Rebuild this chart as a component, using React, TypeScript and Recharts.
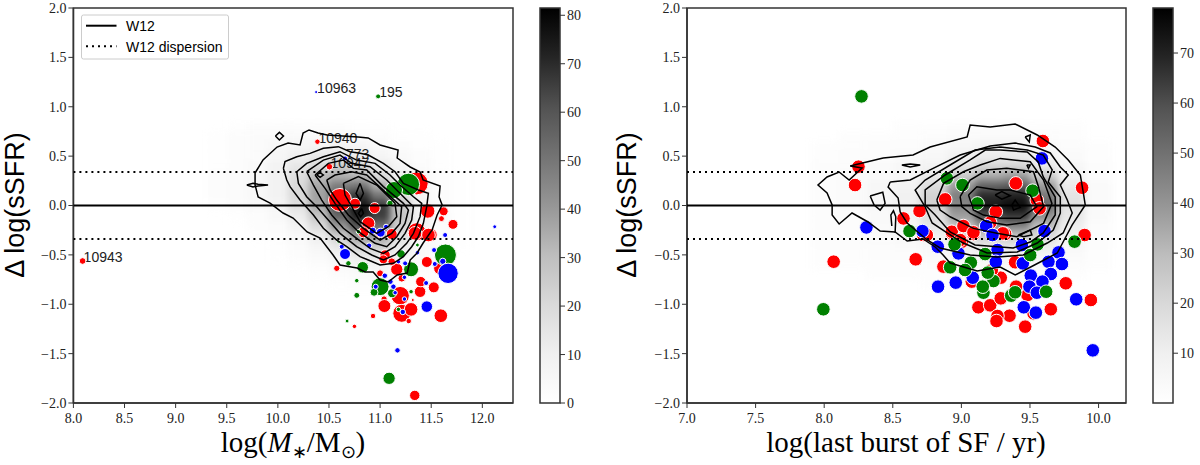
import React from 'react';
import { ScatterChart, Scatter, XAxis, YAxis, ZAxis, ReferenceArea } from 'recharts';

type Row = number[];

// ---------- axis ticks ----------
const ySsfrTicks = [-2, -1.5, -1, -0.5, 0, 0.5, 1, 1.5, 2];
const massTicks = [8, 8.5, 9, 9.5, 10, 10.5, 11, 11.5, 12];
const burstTicks = [7, 7.5, 8, 8.5, 9, 9.5, 10];
const massBarTicks = [0, 10, 20, 30, 40, 50, 60, 70, 80];
const burstBarTicks = [10, 20, 30, 40, 50, 60, 70];
const w12Mean = 0;
const w12Scatter = 0.34;

// ---------- density maps ----------
const densityY = [0.8, 0.7, 0.6, 0.5, 0.4, 0.3, 0.2, 0.1, 0, -0.1, -0.2, -0.3, -0.4, -0.5, -0.6, -0.7, -0.8];
const massDensityX = [9.4, 9.6, 9.8, 10, 10.2, 10.4, 10.6, 10.8, 11, 11.2, 11.4, 11.6, 11.8];
const massDensity: Row[] = [
  [0, 1, 2, 2, 2, 2, 2, 1, 1, 0, 0, 0, 0],
  [1, 2, 3, 3, 4, 4, 4, 3, 2, 1, 1, 0, 0],
  [1, 2, 3, 5, 6, 7, 8, 6, 4, 2, 1, 1, 0],
  [1, 2, 3, 6, 10, 13, 14, 12, 7, 4, 2, 1, 0],
  [1, 2, 4, 8, 14, 20, 24, 20, 13, 7, 3, 1, 0],
  [2, 3, 5, 9, 18, 30, 34, 32, 20, 10, 5, 2, 1],
  [2, 3, 5, 9, 20, 36, 48, 50, 34, 14, 6, 2, 1],
  [2, 3, 5, 9, 20, 38, 58, 68, 50, 20, 7, 2, 1],
  [1, 2, 4, 7, 17, 36, 62, 76, 66, 26, 8, 3, 1],
  [0, 1, 2, 5, 12, 28, 56, 74, 66, 28, 8, 3, 1],
  [0, 0, 2, 3, 8, 20, 42, 62, 54, 24, 8, 2, 1],
  [0, 0, 1, 2, 5, 12, 26, 42, 40, 18, 6, 2, 1],
  [0, 0, 0, 1, 3, 7, 15, 26, 26, 13, 5, 2, 1],
  [0, 0, 0, 1, 2, 4, 8, 14, 15, 9, 4, 1, 0],
  [0, 0, 0, 0, 1, 2, 4, 7, 8, 5, 2, 1, 0],
  [0, 0, 0, 0, 0, 1, 2, 3, 4, 3, 1, 1, 0],
  [0, 0, 0, 0, 0, 0, 1, 2, 2, 1, 1, 0, 0],
];
const burstDensityX = [8.0, 8.2, 8.4, 8.6, 8.8, 9.0, 9.2, 9.4, 9.6, 9.8, 10.0];
const burstDensity: Row[] = [
  [0, 0, 0, 1, 1, 2, 2, 2, 1, 1, 0],
  [0, 1, 1, 1, 2, 3, 3, 3, 2, 1, 0],
  [1, 1, 2, 2, 3, 5, 7, 7, 4, 2, 1],
  [1, 2, 2, 3, 5, 9, 12, 12, 7, 3, 1],
  [2, 2, 3, 5, 8, 14, 20, 20, 13, 5, 2],
  [2, 3, 4, 6, 12, 24, 34, 38, 24, 8, 2],
  [2, 3, 5, 8, 18, 38, 54, 56, 38, 12, 3],
  [2, 3, 5, 9, 22, 46, 68, 70, 48, 15, 3],
  [2, 3, 5, 9, 22, 44, 72, 76, 52, 16, 3],
  [2, 2, 4, 8, 18, 38, 60, 66, 42, 14, 3],
  [2, 2, 3, 6, 14, 28, 42, 46, 30, 11, 2],
  [2, 2, 3, 5, 10, 18, 26, 28, 20, 8, 2],
  [2, 2, 2, 3, 6, 11, 14, 15, 12, 5, 2],
  [1, 1, 2, 2, 4, 6, 8, 9, 6, 3, 1],
  [1, 1, 1, 1, 2, 3, 4, 4, 3, 2, 1],
  [0, 0, 1, 1, 1, 2, 2, 2, 2, 1, 0],
  [0, 0, 0, 0, 1, 1, 1, 1, 0, 0, 0],
];

// ---------- left panel galaxies: [log mass, delta sSFR, weight] ----------
const massRed: Row[] = [
  [8.09, -0.562, 8], [10.576, -0.636, 7], [10.749, -1.224, 3], [10.931, -1.119, 5], [11.039, -0.947, 7],
  [11.042, -1.018, 36], [11.196, -0.913, 76], [11.391, -0.873, 28], [11.398, -0.771, 22], [11.525, -0.829, 25],
  [11.457, -0.572, 25], [11.587, -0.636, 36], [11.163, -0.646, 32], [11.114, -0.569, 11], [11.212, -0.737, 11],
  [11.212, -1.092, 72], [11.303, -1.052, 40], [11.28, -1.17, 5], [11.594, -1.116, 40], [11.339, -1.923, 22],
  [11.0, -0.687, 9], [11.32, -0.957, 1], [11.049, -0.501, 22], [10.608, 0.056, 121], [10.755, 0.018, 25],
  [10.947, -0.026, 25], [10.885, -0.181, 36], [10.837, -0.272, 25], [11.114, -0.289, 25], [11.0, -0.282, 16],
  [11.358, -0.265, 72], [11.495, -0.299, 36], [11.466, -0.056, 45], [11.622, -0.059, 16], [11.6, -0.133, 6],
  [11.713, -0.191, 20], [10.504, 0.393, 8], [10.387, 0.646, 5], [11.358, 0.224, 121], [11.032, -0.545, 16],
  [11.342, -0.282, 40], [11.473, -0.299, 40],
];
const massGreen: Row[] = [
  [10.69, -0.586, 5], [10.83, -0.626, 28], [10.772, -0.761, 3], [10.772, -0.91, 6], [10.677, -1.17, 2],
  [11.0, -0.822, 72], [10.941, -0.879, 12], [11.117, -0.889, 16], [11.303, -0.873, 3], [11.179, -1.052, 3],
  [11.088, -1.75, 32], [11.205, -0.491, 14], [11.303, -0.646, 49], [11.639, -0.501, 110], [11.365, -0.4, 2],
  [10.592, -0.366, 1], [11.277, 0.214, 114], [11.136, 0.157, 64], [11.097, 0.022, 7], [10.788, -0.265, 3],
  [10.981, 1.105, 4],
];
const massBlue: Row[] = [
  [10.657, -0.491, 25], [10.625, -0.417, 4], [10.892, -0.407, 5], [11.365, -0.478, 3], [11.528, -0.451, 4],
  [11.636, -0.299, 4], [11.535, -0.592, 4], [11.613, -0.565, 7], [11.665, -0.687, 94], [11.245, -0.586, 4],
  [11.179, -0.569, 3], [11.046, -0.711, 5], [11.238, -0.727, 3], [11.101, -0.771, 5], [10.957, -0.822, 4],
  [11.13, -0.822, 5], [11.147, -0.883, 3], [11.45, -0.785, 4], [11.238, -0.947, 3], [11.222, -1.078, 5],
  [11.457, -1.024, 28], [11.17, -1.467, 5], [10.657, 0.477, 4], [10.928, -0.255, 9], [11.006, -0.275, 16],
  [11.058, -0.215, 4], [12.121, -0.215, 2], [10.374, 1.149, 1],
];
const labelledX = [10.374, 10.981, 10.387, 10.504, 10.657, 8.09];
const labelledY = [1.149, 1.105, 0.646, 0.393, 0.477, -0.562];
const labelledIds = ['10963', '195', '10940', '10947', '773', '10943'];

// ---------- left panel contours ----------
const massContours: [number, number][][] = [
  [[9.777,.329],[9.855,.461],[9.992,.592],[10.1,.633],[10.217,.613],[10.247,.734],[10.305,.765],[10.393,.734],[10.481,.714],[10.785,.694],[10.883,.684],[11,.613],[11.176,.562],[11.167,.481],[11.294,.39],[11.392,.339],[11.421,.258],[11.587,.197],[11.577,.086],[11.607,.005],[11.558,-.096],[11.509,-.248],[11.421,-.38],[11.362,-.481],[11.294,-.552],[11.265,-.684],[11.167,-.704],[11.079,-.775],[11,-.754],[10.932,-.673],[10.853,-.673],[10.775,-.633],[10.608,-.603],[10.54,-.501],[10.413,-.329],[10.286,-.268],[10.149,-.127],[10.051,-.076],[9.924,.025],[9.807,.086],[9.777,.208]],
  [[10.054,.376],[10.07,.444],[10.185,.494],[10.315,.528],[10.445,.579],[10.592,.596],[10.706,.545],[10.804,.528],[10.885,.511],[11.032,.427],[11.146,.342],[11.228,.224],[11.374,.157],[11.472,.123],[11.456,-.012],[11.423,-.181],[11.374,-.316],[11.309,-.417],[11.228,-.518],[11.13,-.586],[11,-.603],[10.885,-.552],[10.804,-.518],[10.674,-.417],[10.576,-.35],[10.445,-.231],[10.348,-.096],[10.217,.056],[10.119,.191],[10.087,.258]],
  [[10.185,.342],[10.282,.427],[10.445,.494],[10.608,.545],[10.771,.46],[10.951,.427],[11.097,.309],[11.195,.207],[11.326,.089],[11.407,.022],[11.391,-.113],[11.326,-.282],[11.26,-.383],[11.146,-.501],[11.032,-.552],[10.918,-.501],[10.771,-.417],[10.608,-.282],[10.478,-.13],[10.38,-.012],[10.282,.089],[10.201,.224]],
  [[10.282,.342],[10.445,.46],[10.608,.511],[10.722,.427],[10.902,.393],[11.065,.258],[11.26,.055],[11.326,-.012],[11.309,-.147],[11.244,-.282],[11.146,-.417],[11.032,-.485],[10.902,-.434],[10.771,-.333],[10.641,-.231],[10.527,-.096],[10.429,.055],[10.348,.207]],
  [[10.364,.309],[10.494,.427],[10.641,.46],[10.739,.376],[10.869,.359],[11.032,.191],[11.228,.022],[11.277,-.046],[11.244,-.181],[11.163,-.316],[11.065,-.417],[10.951,-.383],[10.788,-.265],[10.674,-.147],[10.559,.022],[10.462,.174]],
  [[10.478,.258],[10.559,.309],[10.722,.342],[10.869,.309],[11.065,.123],[11.211,-.012],[11.195,-.181],[11.114,-.282],[11,-.35],[10.837,-.231],[10.69,-.096],[10.576,.055],[10.511,.157]],
  [[10.641,.224],[10.788,.292],[10.967,.207],[11.146,.022],[11.163,-.113],[11.081,-.215],[10.967,-.282],[10.804,-.164],[10.722,-.012],[10.657,.106]],
  [[10.804,.224],[10.837,.123],[10.804,.055],[10.765,.123]],
  [[10.82,-.03],[10.837,-.08],[10.81,-.113],[10.788,-.08]],
  [[10.38,.309],[10.413,.332],[10.445,.309],[10.413,.285]],
  [[9.976,.704],[10.015,.741],[10.055,.704],[10.015,.663]],
  [[9.696,.208],[9.757,.225],[9.806,.215],[9.904,.208],[9.806,.198],[9.757,.188]],
];

// ---------- right panel galaxies: [log age of last burst, delta sSFR] ----------
const burstRed: Row[] = [
  [8.069,-.569],[8.667,-.545],[8.869,-.619],[9.076,-.771],[9.124,-1.031],[9.21,-1.011],[9.287,-.94],[9.351,-1.116],
  [9.263,-1.119],[9.256,-1.17],[9.465,-1.227],[9.652,-1.051],[9.526,-1.092],[9.761,-.788],[9.944,-.957],[9.392,-.575],
  [9.287,-.731],[9.399,-.822],[9.482,-.906],[9.222,-.653],[9.898,-.299],[8.93,-.282],[9.088,-.289],[9.319,-.288],
  [8.723,-.299],[9.003,-.366],[9.368,-.906],[8.25,.393],[8.225,.207],[9.594,.653],[9.397,.224],[8.882,.062],
  [8.695,-.056],[8.578,-.131],[9.251,-.063],[9.55,.055],[9.57,-.029],[8.93,-.266],[9.015,-.208],[9.088,-.272],
  [9.302,-.282],[9.21,-.174],[8.748,-.299],[8.991,-.35],[9.88,.18],
];
const burstBlue: Row[] = [
  [9.587,.477],[8.308,-.222],[8.716,-.259],[9.181,-.208],[9.227,-.299],[9.606,-.259],[8.828,-.417],[8.979,-.485],
  [9.441,-.401],[9.263,-.451],[9.251,-.57],[9.635,-.57],[9.708,-.475],[9.733,-.593],[9.448,-.586],[9.652,-.694],
  [9.506,-.71],[9.591,-.771],[9.496,-.822],[9.55,-.883],[9.083,-.731],[8.959,-.781],[8.83,-.822],[9.837,-.95],
  [9.455,-1.031],[9.543,-1.085],[9.958,-1.467],
];
const burstGreen: Row[] = [
  [8.894,.275],[9.008,.207],[9.117,.021],[9.519,.15],[8.622,-.259],[9.173,-.492],[9.502,-.502],[9.555,-.394],
  [8.95,-.394],[8.272,1.105],[7.994,-1.051],[9.825,-.366],[9.069,-.579],[8.918,-.626],[9.027,-.653],[9.234,-.765],
  [9.192,-.68],[9.161,-.883],[9.156,-.822],[9.363,-.913],[9.392,-.879],[9.618,-.873],
];

// ---------- right panel contours ----------
const burstContours: [number, number][][] = [
  [[8.189,.4],[8.43,.481],[8.648,.511],[8.772,.592],[9.042,.694],[9.064,.815],[9.21,.795],[9.392,.825],[9.553,.714],[9.684,.592],[9.779,.461],[9.867,.309],[9.889,.127],[9.903,.005],[9.808,-.197],[9.757,-.329],[9.699,-.481],[9.575,-.572],[9.392,-.704],[9.283,-.623],[9.115,-.663],[8.918,-.582],[8.867,-.501],[8.809,-.42],[8.721,-.339],[8.605,-.36],[8.517,-.268],[8.408,-.258],[8.32,-.167],[8.203,-.076],[8.109,-.187],[8.058,-.096],[8.058,.005],[8.021,.127],[7.955,.208],[8.021,.289],[8.109,.339],[8.182,.258],[8.276,.38]],
  [[8.481,.238],[8.627,.258],[8.772,.36],[8.991,.511],[9.21,.603],[9.392,.633],[9.538,.592],[9.648,.532],[9.721,.39],[9.779,.309],[9.721,.208],[9.772,.056],[9.808,-.076],[9.742,-.278],[9.626,-.38],[9.451,-.501],[9.261,-.522],[9.064,-.501],[8.845,-.43],[8.751,-.349],[8.605,-.177],[8.554,-.066],[8.539,.076],[8.466,.187]],
  [[9.283,.592],[9.48,.562],[9.597,.511],[9.662,.36],[9.633,.238],[9.721,.086],[9.721,-.076],[9.67,-.248],[9.553,-.38],[9.407,-.471],[9.188,-.481],[9.013,-.38],[8.896,-.278],[8.787,-.177],[8.736,-.015],[8.663,.157],[8.736,.258],[8.918,.41],[9.1,.562]],
  [[9.283,.562],[9.48,.542],[9.56,.441],[9.597,.289],[9.684,.086],[9.684,-.096],[9.597,-.278],[9.502,-.37],[9.378,-.43],[9.1,-.4],[8.918,-.268],[8.809,-.096],[8.736,.005],[8.736,.157],[8.882,.309],[9.064,.461],[9.174,.562]],
  [[8.821,.055],[8.87,.224],[9.015,.342],[9.137,.41],[9.283,.477],[9.502,.443],[9.599,.258],[9.66,.021],[9.599,-.181],[9.404,-.316],[9.259,-.282],[9.088,-.232],[8.918,-.114],[8.845,-.046]],
  [[8.991,.089],[9.064,.258],[9.186,.359],[9.331,.376],[9.526,.342],[9.562,.19],[9.599,-.012],[9.502,-.164],[9.331,-.198],[9.186,-.164],[9.064,-.08],[9.003,-.012]],
  [[9.052,.106],[9.113,.19],[9.259,.156],[9.356,.156],[9.502,.106],[9.55,-.012],[9.429,-.13],[9.283,-.13],[9.161,-.097],[9.088,-.046]],
  [[9.246,.106],[9.295,.14],[9.356,.099],[9.295,.065]],
  [[9.368,.005],[9.392,.055],[9.429,-.019],[9.38,-.046]],
  [[9.465,.694],[9.502,.714],[9.495,.643]],
  [[9.477,.41],[9.502,.41],[9.489,.376]],
  [[9.416,-.299],[9.502,-.249],[9.514,-.299],[9.453,-.316]],
  [[8.335,.096],[8.427,.134],[8.444,.022],[8.408,-.046],[8.364,.005]],
  [[8.566,.41],[8.627,.42],[8.7,.41],[8.627,.39]],
];
const burstWedge: [number, number][] = [[8.493,-.208],[8.486,-.096],[8.505,-.053],[8.522,-.114],[8.517,-.279]];

// ---------- colours and styles ----------
const RED = '#ff0000';
const GREEN = '#008000';
const BLUE = '#0000ff';
const GREYS = ['#ffffff', '#f0f0f0', '#d9d9d9', '#bdbdbd', '#969696', '#737373', '#525252', '#252525', '#000000'];
const SERIF = '"Liberation Serif", serif';
const SANS = '"Liberation Sans", sans-serif';
const AXIS = '#333';
const BURST_RADIUS = 6.8;

const shade = (v: number, max: number) => {
  const t = Math.max(0, Math.min(1, v / max)) * (GREYS.length - 1);
  const i = Math.min(GREYS.length - 2, Math.floor(t));
  const f = t - i;
  const hex = (c: string, k: number) => parseInt(c.slice(k, k + 2), 16);
  const g = (k: number) => Math.round(hex(GREYS[i], k) * (1 - f) + hex(GREYS[i + 1], k) * f);
  return `rgb(${g(1)},${g(3)},${g(5)})`;
};
const grid = (xs: number[], rows: Row[]) =>
  densityY.flatMap((y, r) => xs.map((x, c) => ({ x, y, v: rows[r][c] }))).filter((d) => d.v > 0);
const dots = (rows: Row[]) => rows.map(([x, y, z]) => ({ x, y, z }));
const closed = (p: [number, number][]) => [...p, p[0]].map(([x, y]) => ({ x, y }));
const fmt = (v: number) => v.toFixed(1).replace('-', '\u2212');

const none = () => <g />;
const heat = (w: number, h: number, max: number) => (p: any) => (
  <rect x={p.cx - w / 2} y={p.cy - h / 2} width={w + 0.5} height={h + 0.5} fill={shade(p.payload.v, max)} />
);
const tagShape = (p: any) => (
  <text x={p.cx + 1} y={p.cy + 1} fontFamily={SANS} fontSize={14} fill="#222">{p.payload.id}</text>
);
const bubbleShape = (fill: string) => (p: any) => (
  <circle cx={p.cx} cy={p.cy} r={Math.sqrt((p.size ?? 40) / Math.PI) + 0.5} fill={fill} stroke="#fff" strokeWidth={1} />
);
const discShape = (fill: string) => (p: any) => (
  <circle cx={p.cx} cy={p.cy} r={BURST_RADIUS} fill={fill} stroke="#fff" strokeWidth={1} />
);

const tickStyle = { fill: '#222', fontFamily: SERIF, fontSize: 14 };
const axisLine = { stroke: AXIS, strokeWidth: 1.5 };
const tickLine = { stroke: AXIS, strokeWidth: 1 };

const sharedAxes = (xDomain: [number, number], xTicks: number[]) => [
  <XAxis key="x" type="number" dataKey="x" domain={xDomain} ticks={xTicks} tickFormatter={fmt} height={30} tickSize={5} tickMargin={5}
    tick={tickStyle} axisLine={axisLine} tickLine={tickLine} interval={0} allowDataOverflow />,
  <YAxis key="y" type="number" dataKey="y" domain={[-2, 2]} ticks={ySsfrTicks} tickFormatter={fmt} width={40} tickSize={5}
    tick={tickStyle} axisLine={axisLine} tickLine={tickLine} interval={0} allowDataOverflow />,
];
const refLines = (d: [number, number]) => {
  const level = (y: number) => [{ x: d[0], y }, { x: d[1], y }];
  return [
    <Scatter key="m" data={level(w12Mean)} shape={none} line={{ stroke: '#000', strokeWidth: 2 }} isAnimationActive={false} />,
    <Scatter key="u" data={level(w12Scatter)} shape={none} line={{ stroke: '#000', strokeWidth: 2, strokeDasharray: '2 4' }} isAnimationActive={false} />,
    <Scatter key="l" data={level(-w12Scatter)} shape={none} line={{ stroke: '#000', strokeWidth: 2, strokeDasharray: '2 4' }} isAnimationActive={false} />,
    <ReferenceArea key="f" x1={d[0]} x2={d[1]} y1={-2} y2={2} fill="none" stroke={AXIS} strokeWidth={1.5} />,
  ];
};

function MassPanel() {
  const domain: [number, number] = [8, 12.3];
  const tags = labelledIds.map((id, i) => ({ id, x: labelledX[i], y: labelledY[i] }));
  return (
    <div style={{ position: 'absolute', left: 0, top: 0 }}>
      <ScatterChart width={530} height={465} margin={{ top: 8, left: 33.4, right: 17, bottom: 32 }}>
        {sharedAxes(domain, massTicks)}
        <ZAxis type="number" dataKey="z" domain={[0, 200]} range={[0, 628]} />
        <Scatter className="density" data={grid(massDensityX, massDensity)} shape={heat(20.4, 9.9, 81.5)} isAnimationActive={false} />
        <Scatter data={tags} shape={tagShape} isAnimationActive={false} />
        <Scatter data={dots(massRed)} shape={bubbleShape(RED)} isAnimationActive={false} />
        <Scatter data={dots(massGreen)} shape={bubbleShape(GREEN)} isAnimationActive={false} />
        <Scatter data={dots(massBlue)} shape={bubbleShape(BLUE)} isAnimationActive={false} />
        {massContours.map((c, i) => (
          <Scatter key={i} data={closed(c)} shape={none} line={{ stroke: '#000', strokeWidth: 1.5 }} isAnimationActive={false} />
        ))}
        {refLines(domain)}
        <text x={24} y={205} transform="rotate(-90 24 205)" textAnchor="middle" fontFamily={SANS} fontSize={27} fill="#000">
          {'\u0394 log(sSFR)'}
        </text>
        <text x={293} y={452} textAnchor="middle" fontFamily={SERIF} fontSize={29} fill="#000">
          log(<tspan fontStyle="italic">M</tspan><tspan fontSize={18} dy={6}>{'\u2217'}</tspan><tspan dy={-6}>/M</tspan><tspan fontSize={18} dy={6}>{'\u2299'}</tspan><tspan dy={-6}>)</tspan>
        </text>
      </ScatterChart>
    </div>
  );
}

function BurstPanel() {
  const domain: [number, number] = [7, 10.2];
  return (
    <div style={{ position: 'absolute', left: 600, top: 0 }}>
      <ScatterChart width={536} height={465} margin={{ top: 8, left: 47, right: 10, bottom: 32 }}>
        {sharedAxes(domain, burstTicks)}
        <Scatter className="density" data={grid(burstDensityX, burstDensity)} shape={heat(27.4, 9.9, 79)} isAnimationActive={false} />
        <Scatter data={dots(burstRed)} shape={discShape(RED)} isAnimationActive={false} />
        <Scatter data={dots(burstBlue)} shape={discShape(BLUE)} isAnimationActive={false} />
        <Scatter data={dots(burstGreen)} shape={discShape(GREEN)} isAnimationActive={false} />
        {burstContours.map((c, i) => (
          <Scatter key={i} data={closed(c)} shape={none} line={{ stroke: '#000', strokeWidth: 1.5 }} isAnimationActive={false} />
        ))}
        <Scatter data={burstWedge.map(([x, y]) => ({ x, y }))} shape={none} line={{ stroke: '#000', strokeWidth: 1.5 }} isAnimationActive={false} />
        {refLines(domain)}
        <text x={36} y={205} transform="rotate(-90 36 205)" textAnchor="middle" fontFamily={SANS} fontSize={27} fill="#000">
          {'\u0394 log(sSFR)'}
        </text>
        <text x={306} y={452} textAnchor="middle" fontFamily={SERIF} fontSize={29} fill="#000">
          log(last burst of SF / yr)
        </text>
      </ScatterChart>
    </div>
  );
}

function ColorBar({ id, left, width, domain, ticks }: { id: string; left: number; width: number; domain: [number, number]; ticks: number[] }) {
  return (
    <div style={{ position: 'absolute', left, top: 0 }}>
      <ScatterChart width={width} height={465} margin={{ top: 8, left: 10, right: 0, bottom: 62 }}>
        <defs>
          <linearGradient id={id} x1="0" y1="1" x2="0" y2="0">
            {GREYS.map((c, i) => <stop key={i} offset={i / (GREYS.length - 1)} stopColor={c} />)}
          </linearGradient>
        </defs>
        <XAxis type="number" dataKey="x" domain={[0, 1]} hide />
        <YAxis type="number" dataKey="y" orientation="right" domain={domain} ticks={ticks} width={width - 30} tickSize={5}
          tick={tickStyle} axisLine={false} tickLine={tickLine} interval={0} allowDataOverflow />
        <Scatter data={[{ x: 0.5, y: domain[0] }]} shape={none} isAnimationActive={false} />
        <ReferenceArea x1={0} x2={1} y1={domain[0]} y2={domain[1]} fill={`url(#${id})`} fillOpacity={1} stroke={AXIS} strokeWidth={1.5} />
      </ScatterChart>
    </div>
  );
}

function LegendBox() {
  return (
    <svg style={{ position: 'absolute', left: 0, top: 0, pointerEvents: 'none' }} width={300} height={80}>
      <rect x={81.5} y={15} width={147} height={44} rx={2} fill="#fff" fillOpacity={0.9} stroke="#ccc" strokeWidth={1} />
      <line x1={86} x2={116.5} y1={25.7} y2={25.7} stroke="#000" strokeWidth={2} />
      <line x1={86} x2={116.5} y1={46.3} y2={46.3} stroke="#000" strokeWidth={2} strokeDasharray="2 4" />
      <text x={126} y={31} fontFamily={SANS} fontSize={14} fill="#000">W12</text>
      <text x={126} y={51.5} fontFamily={SANS} fontSize={14} fill="#000">W12 dispersion</text>
    </svg>
  );
}

export default function App() {
  return (
    <div style={{ position: 'absolute', left: 0, top: 0, width: 1200, height: 465, overflow: 'hidden', background: '#fff' }}>
      <style>{'.density{filter:blur(3.5px);}'}</style>
      <MassPanel />
      <ColorBar id="massBar" left={530} width={60} domain={[0, 81.5]} ticks={massBarTicks} />
      <BurstPanel />
      <ColorBar id="burstBar" left={1143} width={57} domain={[0.05, 79]} ticks={burstBarTicks} />
      <LegendBox />
    </div>
  );
}
